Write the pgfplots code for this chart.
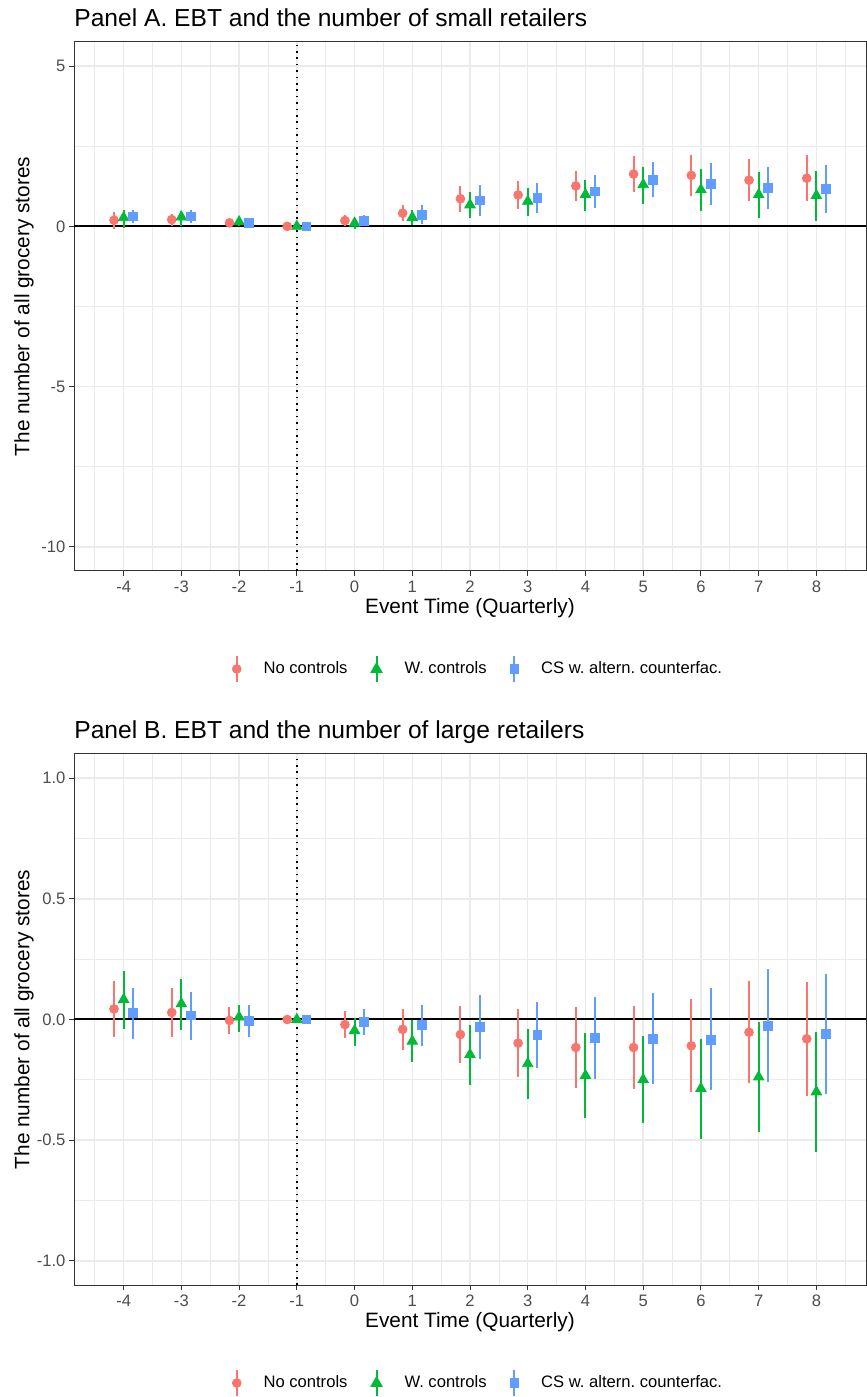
\documentclass[border=0pt]{standalone}
\usepackage{fontspec}
\setmainfont{Liberation Sans}
\usepackage{pgfplots}
\usepackage{pgfplotstable}
\pgfplotsset{compat=1.18}
\frenchspacing

\definecolor{ggred}{HTML}{F8766D}
\definecolor{gggreen}{HTML}{00BA38}
\definecolor{ggblue}{HTML}{619CFF}
\definecolor{gray92}{HTML}{EBEBEB}
\definecolor{gray20}{HTML}{333333}
\definecolor{gray30}{HTML}{4D4D4D}

% Panel A: small retailers
\pgfplotstableread{
t est lo hi
-4 0.19 -0.08 0.45
-3 0.21 0.00 0.40
-2 0.11 0.02 0.20
-1 0 0 0
0 0.18 0.02 0.34
1 0.41 0.16 0.65
2 0.86 0.45 1.27
3 0.98 0.55 1.41
4 1.26 0.80 1.72
5 1.63 1.07 2.19
6 1.59 0.96 2.22
7 1.44 0.79 2.10
8 1.50 0.78 2.22
}\smallR
\pgfplotstableread{
t est lo hi
-4 0.27 -0.05 0.52
-3 0.29 0.02 0.47
-2 0.14 0.00 0.27
-1 0 0 0
0 0.10 -0.08 0.27
1 0.28 0.03 0.52
2 0.67 0.25 1.07
3 0.78 0.32 1.19
4 0.99 0.49 1.46
5 1.30 0.71 1.86
6 1.14 0.48 1.80
7 0.99 0.27 1.70
8 0.96 0.18 1.72
}\smallG
\pgfplotstableread{
t est lo hi
-4 0.31 0.10 0.52
-3 0.31 0.10 0.52
-2 0.11 0.00 0.23
-1 0 0 0
0 0.18 0.02 0.35
1 0.36 0.07 0.65
2 0.81 0.31 1.29
3 0.88 0.42 1.34
4 1.09 0.58 1.59
5 1.45 0.91 2.00
6 1.33 0.67 1.98
7 1.19 0.53 1.85
8 1.16 0.41 1.91
}\smallB

% Panel B: large retailers
\pgfplotstableread{
t est lo hi
-4 0.044 -0.074 0.160
-3 0.029 -0.072 0.131
-2 -0.004 -0.061 0.052
-1 0 0 0
0 -0.021 -0.077 0.036
1 -0.041 -0.125 0.043
2 -0.062 -0.182 0.056
3 -0.098 -0.238 0.042
4 -0.116 -0.285 0.053
5 -0.116 -0.289 0.057
6 -0.109 -0.301 0.083
7 -0.053 -0.265 0.159
8 -0.080 -0.315 0.154
}\largeR
\pgfplotstableread{
t est lo hi
-4 0.083 -0.040 0.201
-3 0.065 -0.045 0.166
-2 0.010 -0.050 0.062
-1 0 0 0
0 -0.046 -0.108 0.007
1 -0.090 -0.175 -0.003
2 -0.145 -0.272 -0.023
3 -0.183 -0.329 -0.040
4 -0.232 -0.408 -0.058
5 -0.249 -0.430 -0.069
6 -0.286 -0.495 -0.080
7 -0.238 -0.466 -0.011
8 -0.300 -0.551 -0.051
}\largeG
\pgfplotstableread{
t est lo hi
-4 0.028 -0.079 0.131
-3 0.017 -0.083 0.115
-2 -0.007 -0.073 0.058
-1 0 0 0
0 -0.010 -0.064 0.044
1 -0.022 -0.110 0.062
2 -0.032 -0.163 0.100
3 -0.064 -0.200 0.073
4 -0.076 -0.246 0.095
5 -0.079 -0.268 0.109
6 -0.083 -0.293 0.130
7 -0.025 -0.257 0.208
8 -0.059 -0.308 0.187
}\largeB

\pgfplotsset{
  ggpanel/.style={
    scale only axis, width=396pt,
    xmin=-4.86, xmax=8.86,
    xtick={-4,-3,...,8}, minor xtick={-4.5,-3.5,...,8.5},
    grid=both,
    major grid style={draw=gray92, line width=0.7pt},
    minor grid style={draw=gray92, line width=0.35pt},
    minor tick length=0pt, major tick length=2.6pt,
    tick align=outside, xtick pos=bottom, ytick pos=left,
    major tick style={draw=gray20, line width=0.5pt},
    axis line style={draw=gray20, line width=0.5pt},
    tick label style={font=\fontsize{8.3}{10}\selectfont, text=gray30, inner sep=0pt},
    xticklabel style={anchor=north, yshift=-2pt},
    yticklabel style={anchor=east, xshift=-1.5pt},
    /pgf/number format/assume math mode=true,
    xlabel={Event Time (Quarterly)},
    ylabel={The number of all grocery stores},
    every axis x label/.style={at={(axis description cs:0.5,-0.07)}, anchor=center,
      font=\fontsize{10.4}{12}\selectfont},
    every axis y label/.style={at={(axis description cs:-0.0631,0.5)}, anchor=center,
      rotate=90, font=\fontsize{10.4}{12}\selectfont},
    every axis title shift=0pt,
    title style={at={(axis description cs:0,1)}, anchor=base west, yshift=7.5pt,
      inner sep=0pt, font=\fontsize{12.3}{14}\selectfont},
    legend columns=-1,
    legend style={at={(axis description cs:0.5,0)}, anchor=center,
      yshift=-49pt, xshift=4.5pt,
      draw=none, fill=none, font=\fontsize{8.3}{10}\selectfont,
      /tikz/every odd column/.append style={column sep=9pt},
      /tikz/every even column/.append style={column sep=9.5pt}},
  },
  keyR/.style={legend image code/.code={
    \draw[ggred, line width=1pt] (0pt,-6.5pt) -- (0pt,6.5pt);
    \fill[ggred] (0pt,0pt) circle (2.2pt);}},
  keyG/.style={legend image code/.code={
    \draw[gggreen, line width=1pt] (0pt,-6.5pt) -- (0pt,6.5pt);
    \fill[gggreen] (0pt,3.2pt) -- (-2.8pt,-1.7pt) -- (2.8pt,-1.7pt) -- cycle;}},
  keyB/.style={legend image code/.code={
    \draw[ggblue, line width=1pt] (0pt,-6.5pt) -- (0pt,6.5pt);
    \fill[ggblue] (-2.2pt,-2.2pt) rectangle (2.2pt,2.2pt);}},
  serR/.style={color=ggred, only marks, mark=*, mark size=2.2pt, keyR,
    error bars/.cd, y dir=both, y explicit, error mark=none,
    error bar style={line width=1pt, ggred}},
  serG/.style={color=gggreen, only marks, mark=triangle*, mark size=3pt, keyG,
    error bars/.cd, y dir=both, y explicit, error mark=none,
    error bar style={line width=1pt, gggreen}},
  serB/.style={color=ggblue, only marks, mark=square*, mark size=2.2pt, keyB,
    error bars/.cd, y dir=both, y explicit, error mark=none,
    error bar style={line width=1pt, ggblue}},
}

\begin{document}
\begin{tikzpicture}
\useasboundingbox (0,0) rectangle (433.5pt,698.5pt);

\begin{axis}[ggpanel, at={(37pt,413pt)}, anchor=south west, height=264.5pt,
  title={Panel A. EBT and the number of small retailers},
  ymin=-10.75, ymax=5.75,
  ytick={-10,-5,0,5}, minor ytick={-7.5,-2.5,2.5}]
  \addplot[black, line width=1pt, forget plot] coordinates {(-4.86,0) (8.86,0)};
  \addplot[black, line width=0.8pt, dash pattern=on 0.8pt off 2.4pt, forget plot]
    coordinates {(-1,-10.75) (-1,5.75)};
  \addplot[serR] table[x expr=\thisrow{t}-0.1667, y=est,
    y error plus expr=\thisrow{hi}-\thisrow{est},
    y error minus expr=\thisrow{est}-\thisrow{lo}] {\smallR};
  \addlegendentry{No controls}
  \addplot[serG] table[x=t, y=est,
    y error plus expr=\thisrow{hi}-\thisrow{est},
    y error minus expr=\thisrow{est}-\thisrow{lo}] {\smallG};
  \addlegendentry{W. controls}
  \addplot[serB] table[x expr=\thisrow{t}+0.1667, y=est,
    y error plus expr=\thisrow{hi}-\thisrow{est},
    y error minus expr=\thisrow{est}-\thisrow{lo}] {\smallB};
  \addlegendentry{CS w. altern. counterfac.}
\end{axis}

\begin{axis}[ggpanel, at={(37pt,56pt)}, anchor=south west, height=265.5pt,
  title={Panel B. EBT and the number of large retailers},
  ymin=-1.1, ymax=1.1,
  ytick={-1,-0.5,0,0.5,1}, minor ytick={-0.75,-0.25,0.25,0.75},
  yticklabel style={/pgf/number format/.cd, fixed, fixed zerofill, precision=1}]
  \addplot[black, line width=1pt, forget plot] coordinates {(-4.86,0) (8.86,0)};
  \addplot[black, line width=0.8pt, dash pattern=on 0.8pt off 2.4pt, forget plot]
    coordinates {(-1,-1.1) (-1,1.1)};
  \addplot[serR] table[x expr=\thisrow{t}-0.1667, y=est,
    y error plus expr=\thisrow{hi}-\thisrow{est},
    y error minus expr=\thisrow{est}-\thisrow{lo}] {\largeR};
  \addlegendentry{No controls}
  \addplot[serG] table[x=t, y=est,
    y error plus expr=\thisrow{hi}-\thisrow{est},
    y error minus expr=\thisrow{est}-\thisrow{lo}] {\largeG};
  \addlegendentry{W. controls}
  \addplot[serB] table[x expr=\thisrow{t}+0.1667, y=est,
    y error plus expr=\thisrow{hi}-\thisrow{est},
    y error minus expr=\thisrow{est}-\thisrow{lo}] {\largeB};
  \addlegendentry{CS w. altern. counterfac.}
\end{axis}
\end{tikzpicture}
\end{document}
